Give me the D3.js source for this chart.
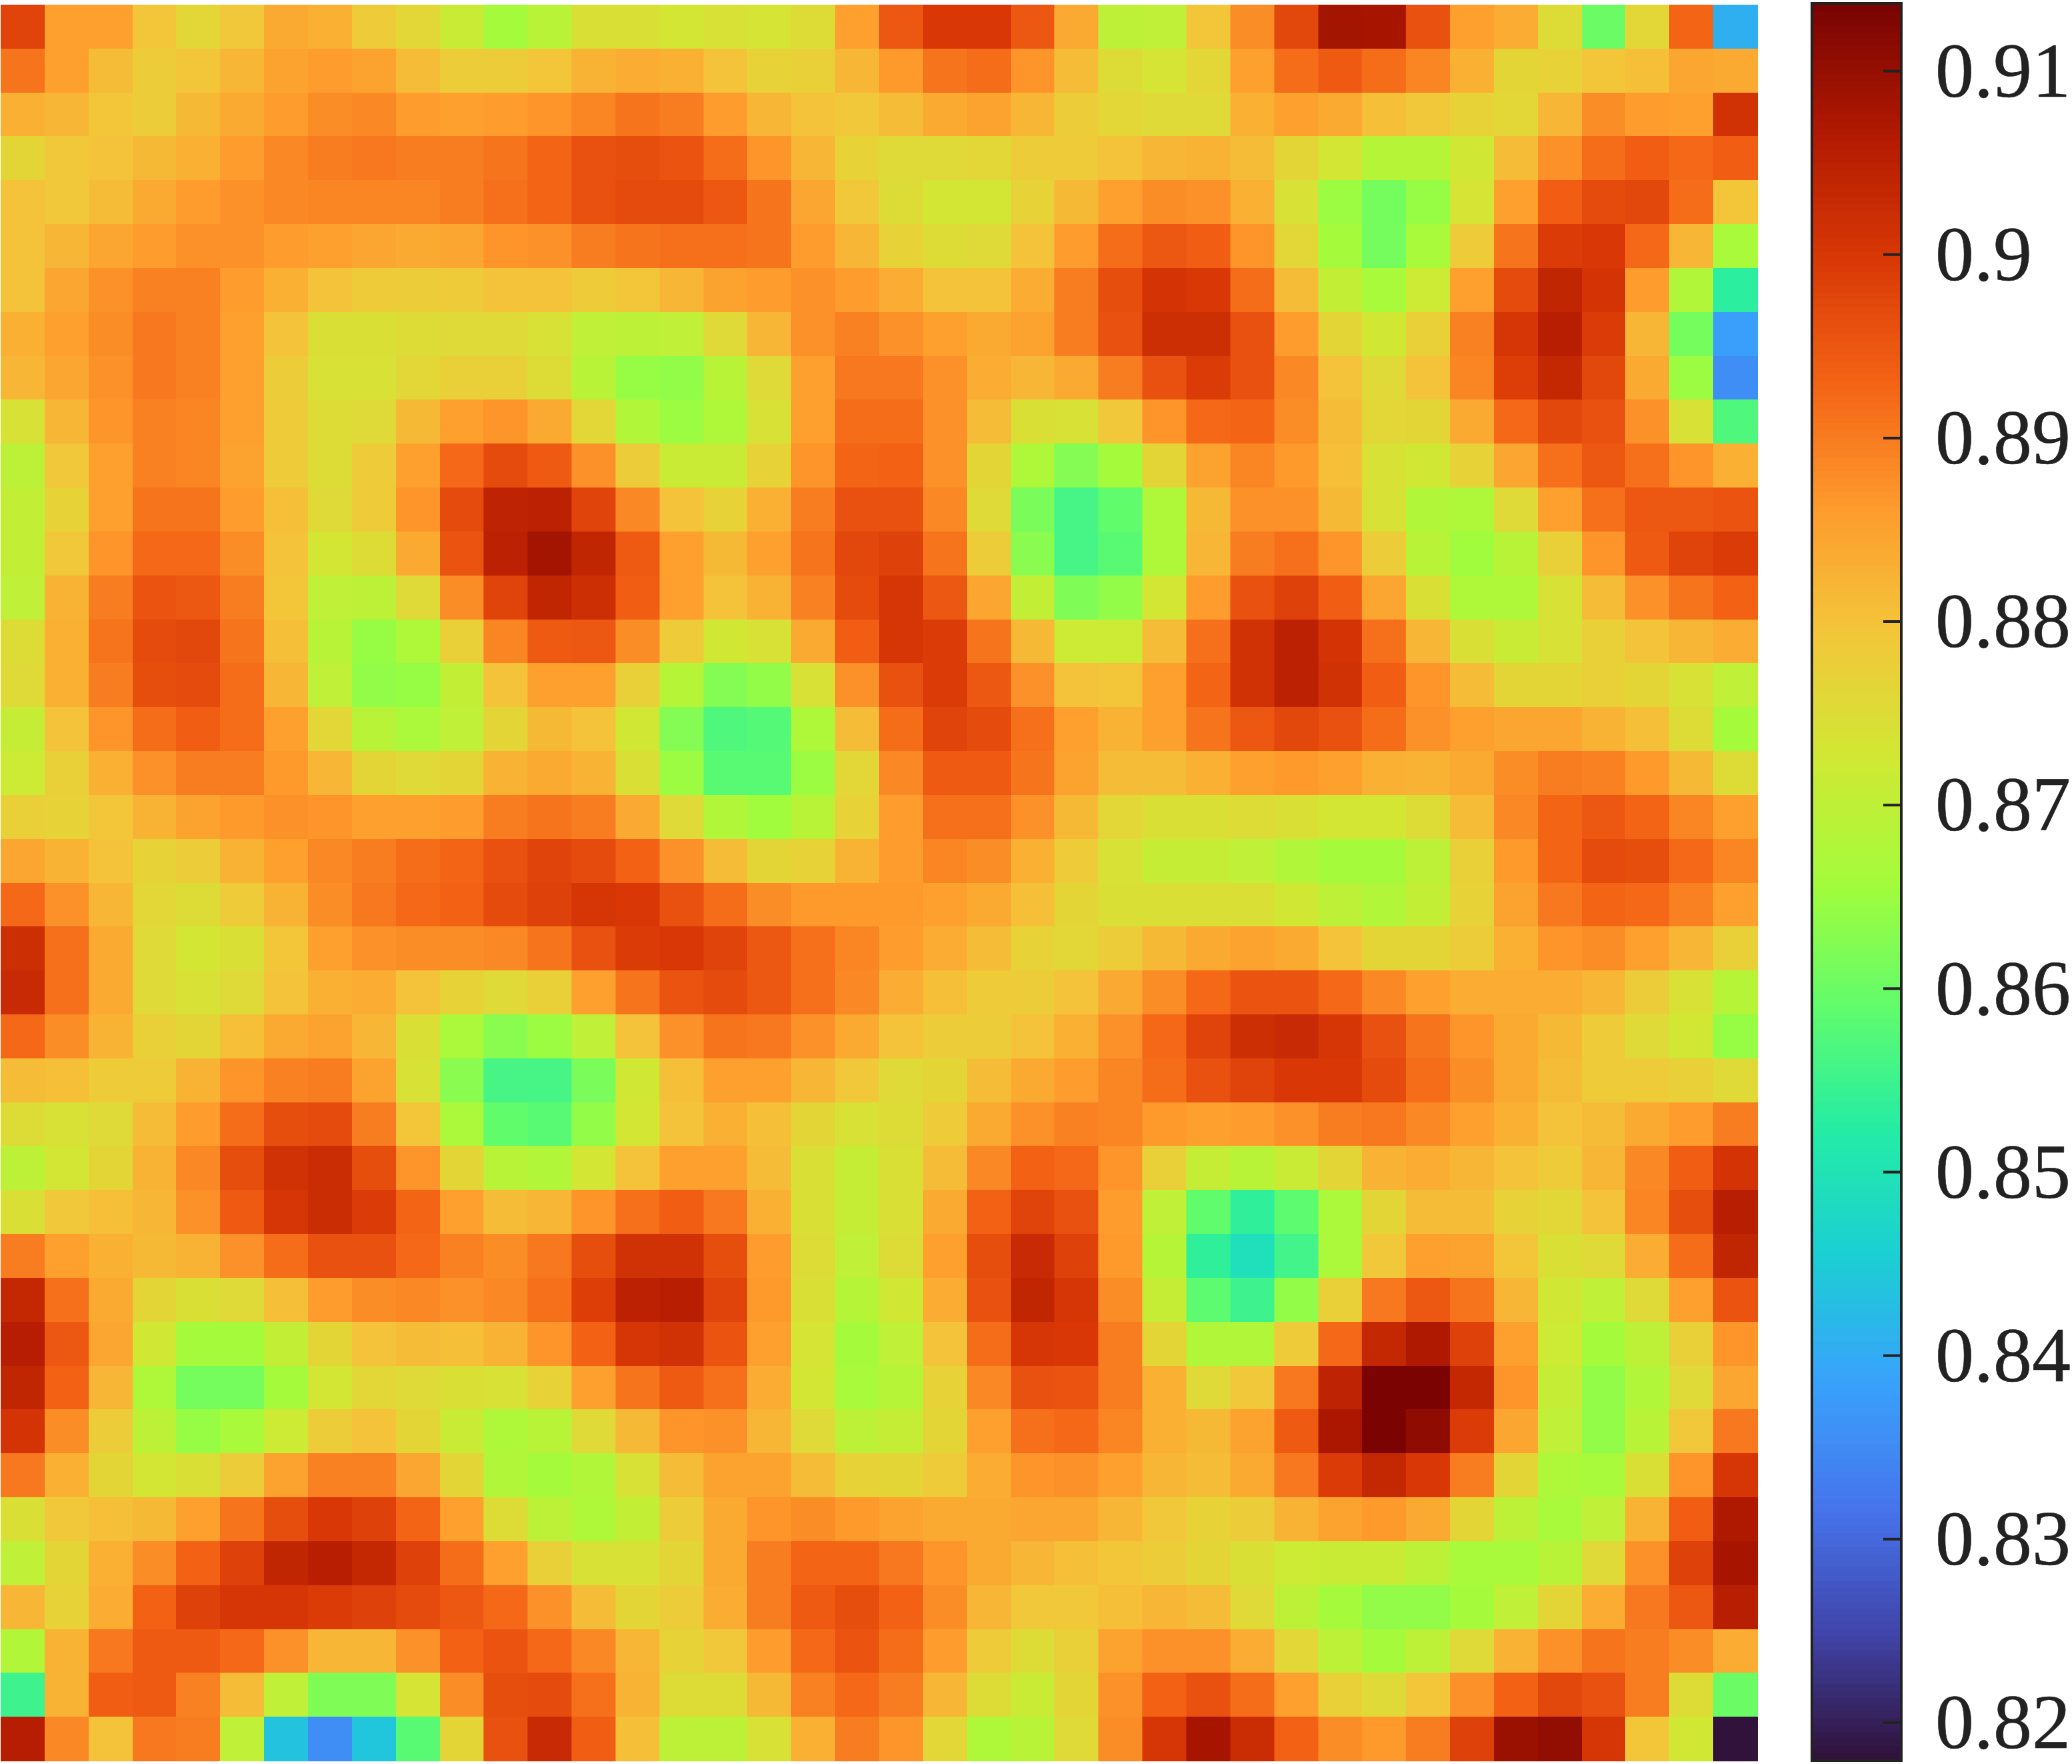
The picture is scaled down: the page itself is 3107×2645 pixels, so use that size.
<!DOCTYPE html>
<html><head><meta charset="utf-8">
<script src="https://cdnjs.cloudflare.com/ajax/libs/d3/7.8.5/d3.min.js"></script>
<style>html,body{margin:0;padding:0;background:#fff}svg{display:block}</style>
</head><body><div id="chart"></div>
<script>
// cell values, in thousandths
const row00=[898,885.5,885.5,879.5,876,879,884,883,878.5,876,871.5,866,869,874.5,874.5,873,874,873.5,875,885.5,895,900,900,895,884,869.5,870,879.5,888,897.5,908.5,908,896,885.5,883.5,875,860,876,893,840.5];
const row01=[891,885.5,881,878,879.5,882,885,886,885,881,878,878,879.5,882.5,883.5,883,880,877,877.5,882,886.5,891,892,887,881,875,873.5,876,885.5,892,894.5,892,889,883,876.5,877,879.5,880.5,884.5,884];
const row02=[883,882,879.5,878,881.5,884,886,888,888.5,886,885.5,886,887,889,891,890,886,882,880,879,881,884,885,882,878,876,875.5,875.5,883,885.5,884,880.5,879,877,876,882,888,886,885.5,901.5];
const row03=[876.5,879,880,881.5,883,886,888.5,890,890.5,890,890,891,893,896,896.5,895.5,892,887,882,877,875.5,875.5,876,878,878.5,880,882,882.5,881,876.5,873,868.5,868.5,872.5,881,887.5,892,894,892.5,894];
const row04=[880,879,881,884,886,887.5,888.5,889,889,889,890,891.5,893,896,897,897,895,891,884.5,879,875,873,873,877,881.5,885.5,888,887.5,883,874,865,861,864.5,873.5,885.5,894,897,897.5,892,879.5];
const row05=[880,882,884.5,886,887.5,887.5,886,885.5,884.5,884,884.5,887,887.5,890,891,891.5,891.5,891,886,882,877,875,875.5,880,886,892,895,894,887,876,866,861,866.5,878.5,891,899.5,900,892.5,882,866.5];
const row06=[880,884.5,887.5,889.5,889.5,886,883,880,878.5,878,878.5,880,880,878.5,879.5,882,885,886,887.5,886,883.5,880,880,883.5,890,896.5,901,900,892,881,870.5,866.5,872,885.5,897,904,901,886,868,853];
const row07=[883,885.5,888,890.5,889.5,885.5,880,874.5,874.5,875,875.5,875.5,874,870,869.5,870,875.5,882,887.5,889.5,887.5,885.5,884,885,890,896,902,902,896,886,876.5,872.5,877.5,889.5,900.5,905.5,899.5,882,861,838];
const row08=[882,884.5,887.5,890.5,889.5,885.5,878,874,874,876,877.5,877.5,875,869,864.5,864,869,875.5,885.5,890.5,890.5,887.5,883.5,882,884,890,896,899.5,896,888.5,880,875.5,880,889,899,903.5,897.5,884,865,835.5];
const row09=[874,882,887,889.5,889,885.5,878.5,875,875.5,881.5,885.5,887,884,876,868,865,867.5,874,885.5,892,892,887.5,881,874.5,874,879,887,892.5,893,888,881,876,876.5,884,892.5,897.5,896,887.5,874,857];
const row10=[869.5,879,885.5,889.5,889,885,878.5,875,878.5,885.5,892.5,897,894.5,887.5,878,871.5,871.5,877,887,893,893.5,887.5,876.5,867.5,862.5,866,876.5,885,889,886.5,880.5,874,872.5,877,884.5,891.5,895,891.5,887,883];
const row11=[870.5,877,885.5,891,891,886,880.5,875.5,878.5,887,897,904.5,905,898,888.5,880,877,883,890,896,896,888.5,875.5,861.5,856,859,867.5,881.5,887.5,887.5,881.5,874,868,867.5,875.5,885.5,891.5,895,895,895.5];
const row12=[870.5,879,887,892.5,892.5,888,880,873,875,884,895.5,905,908.5,904,894.5,885.5,881.5,885.5,891,897.5,898.5,891,878,863,856,858,867.5,882,890,891.5,887,878,869,865.5,869,877.5,887,894.5,898,899.5];
const row13=[870,882.5,890,895.5,895,890,879.5,870,869.5,875.5,888,898,904,902,894,885.5,880,882.5,889.5,897,900.5,895,884.5,870.5,862,864,873,886,896,898.5,894,884.5,874.5,867.5,867.5,874,881,887.5,891,893.5];
const row14=[875,883,891,897,897.5,891,880.5,869,864.5,867.5,877.5,889,894.5,895,888,878.5,872.5,874,884,894,900.5,899.5,891,881.5,872,872,881,891.5,901.5,905,901,891.5,882,874.5,871.5,874,877.5,880,882,883.5];
const row15=[875.5,883,890,896.5,897,892,882,870,864,864.5,870.5,880,885.5,885.5,877.5,868.5,862.5,864,874,887.5,896,899.5,895,887.5,880,879.5,885.5,893,901.5,905,901.5,894,887,881,876.5,876.5,877.5,876.5,874,870];
const row16=[871,880,887,892,894,892,885.5,876,869,867,870,876.5,881.5,880,872.5,862.5,857,857.5,867.5,881,892,898,897,891.5,885.5,882.5,885.5,891,895,897.5,896,892,887.5,885.5,884.5,884.5,882.5,880.5,875,866];
const row17=[872,877.5,883,887.5,890,890,886.5,882,876.5,875.5,876.5,882.5,884,882.5,874.5,865,858,858,865,876,888.5,894.5,894.5,891,885,881,881,883,885.5,886.5,885.5,883,882.5,884,888,890,889.5,886.5,881.5,875];
const row18=[877.5,877,879.5,882.5,885,886.5,887.5,887,885.5,885.5,886,890,891,890,884,875.5,868,865.5,869,877,886,891.5,891.5,887.5,881.5,876,874.5,874.5,875,874.5,873,873,875,881,888.5,893,895,893,889,885.5];
const row19=[884.5,882.5,880,877,878,882.5,885.5,888.5,890,892,893,896,898,897,893.5,887.5,881,876.5,877,882.5,886,889,888,883,878.5,874,871,871,870,868,866,866,869.5,877.5,886.5,893,897,896.5,892.5,889];
const row20=[892.5,887.5,882,876,875,878.5,882.5,888,890.5,892.5,893.5,897,898.5,900.5,900,896,892,888,886.5,886.5,886.5,885.5,884,880.5,876.5,874.5,874.5,874.5,874.5,872.5,869.5,868,870.5,877,885,890.5,893,892.5,889.5,885.5];
const row21=[902,891.5,884,875.5,873,874.5,879.5,885.5,887.5,888,888,888.5,891,896,899.5,900,898,895,891.5,889,886,883.5,881,877,876,878,881.5,884,885,884,880,876.5,876.5,878,883,887,888,885.5,882,877.5];
const row22=[903,891.5,884,875.5,874,875.5,880,883,883.5,880,877,875.5,877.5,885.5,891,895.5,897,895,891.5,888.5,883.5,880.5,878.5,878,880,884,888,892.5,895.5,895.5,892.5,888.5,885.5,883.5,883.5,883.5,882,878,874,868.5];
const row23=[892.5,888,882.5,877.5,876.5,880.5,884,885,882,874.5,867,863,865,870,880,887.5,891,890.5,887.5,884,880,878,878,880,883,887.5,892.5,898,902,903,900.5,896,891,887,884,881.5,878.5,875.5,872.5,864.5];
const row24=[881,880.5,878.5,878.5,882.5,887,889.5,890,885,874,863,856,856,861.5,872.5,880.5,885.5,885.5,882,879,875.5,876.5,881,884,886,889,892,896,898,900,900,897,892,888,884,881,878.5,878.5,877.5,875.5];
const row25=[875,874,875.5,881,886,892,896.5,897,890,879.5,867,859,858,864,873,880,883,880.5,876.5,874,875,878.5,884,887.5,889.5,889,886.5,885.5,886,887.5,890,890.5,888.5,885.5,883,880,881,884,886,890];
const row26=[869.5,873,876.5,882.5,888.5,896.5,901.5,902.5,896.5,887,876.5,869,868,873,880,885.5,885.5,881,874.5,871,874.5,881,888.5,893.5,892.5,887,877.5,871,869,871.5,876.5,882.5,883.5,882,880,878.5,882,888.5,894,901];
const row27=[874.5,879,880.5,882,887.5,894.5,900.5,902.5,899.5,893,885.5,881,882,887,891.5,894,890.5,883,874.5,871,874.5,884,893.5,898,896,886,870,859,853.5,858.5,867,876.5,881,881,877,876,880,889,896.5,905.5];
const row28=[890,885.5,883,881.5,882.5,887.5,892,896,896,892.5,889.5,888,890.5,896.5,901.5,901.5,896.5,886,875,870,875,885.5,896.5,903,898.5,886.5,868.5,853.5,849,855.5,867,879,885.5,885,879.5,874.5,875.5,883.5,892,904];
const row29=[903.5,891.5,884,876.5,874.5,875.5,880.5,886,888,888.5,887.5,888.5,891.5,899,905,905.5,898,886.5,874.5,868.5,872.5,883.5,896,904,900.5,888,871,858.5,855,864,877.5,890.5,895,891,882,872.5,870,875.5,885.5,895.5];
const row30=[906,895,884.5,872.5,866,866,870.5,876.5,880,881,880.5,882.5,887,893.5,900.5,901.5,895.5,885.5,873.5,866,870,880,892,900.5,900,890,876.5,868,868,878.5,892.5,903.5,907,898.5,885.5,872,866,869.5,877.5,887];
const row31=[904,893.5,882,867.5,861,861,866,873,876,875.5,874.5,874,877,885.5,891,894.5,891.5,883.5,873,866.5,868.5,877,888.5,896,895.5,890,883,875.5,879,890.5,904.5,913.5,913.5,903.5,887,871,864,868,875.5,884.5];
const row32=[901,888,878,869.5,864.5,866.5,872,878,880,876.5,871.5,867.5,869,875.5,881.5,887,887.5,882,875.5,869.5,871,876.5,885.5,891.5,892.5,889,883,881.5,885,894.5,907.5,913.5,911,899.5,884.5,870,864,869,879,890.5];
const row33=[890.5,883,876.5,873,874.5,878,885,889.5,889.5,884.5,876.5,868,866,868,874,881,885,885,881,877,876.5,878.5,883.5,887,887.5,885.5,882,881,884,890.5,899.5,903.5,900,890,876.5,867.5,866.5,874.5,887,900.5];
const row34=[874.5,879,880.5,881.5,885.5,891,896.5,900,898.5,893,885.5,875,869.5,867.5,870.5,878,884,887,888,886.5,885,884,884,884.5,884.5,882,879,877,878,882.5,885,886.5,884,876.5,869.5,866.5,870,882.5,894,907];
const row35=[870,876.5,883,888,893.5,898.5,904,905.5,903.5,898.5,892,885.5,877.5,874,874,876.5,884,890,893,893,890.5,887,884,882,880.5,879.5,878,876.5,874.5,872,871.5,871.5,869.5,866.5,866.5,869,875.5,887.5,898.5,908];
const row36=[882,877,883.5,893.5,898.5,900.5,900.5,899.5,898.5,897,895,892.5,887.5,881,876.5,878,883.5,890,894.5,896.5,893.5,888,882,879,879,880.5,882,881,875.5,869.5,866,864,864,866,870,876.5,883.5,890.5,895,905.5];
const row37=[868,882.5,890.5,894.5,894.5,892.5,887.5,882,882,887.5,893.5,895.5,892.5,888.5,882,877,879,886,892.5,895.5,892,886,878.5,875,877.5,885,887.5,887.5,883.5,876,869.5,866,869.5,875.5,882.5,887.5,891,890,888,883.5];
const row38=[855,882.5,894,894.5,889.5,881,870,862,862,873.5,888,896.5,897,891.5,882.5,875,875,881.5,889.5,892.5,890,882,875,871.5,876.5,887.5,893.5,896,892,885.5,877.5,875.5,879.5,887.5,893.5,897.5,896,890,875,860];
const row39=[906,888.5,880,890.5,890,870,843.5,835.5,844,858,876.5,896,903,894,880.5,869.5,869.5,874,883,890,887,876,867.5,869,875.5,888,900.5,908,902.5,893.5,888,886.5,890,898.5,909.5,910.5,900.5,879.5,872.5,818];
const rows=[row00,row01,row02,row03,row04,row05,row06,row07,row08,row09,row10,row11,row12,row13,row14,row15,row16,row17,row18,row19,row20,row21,row22,row23,row24,row25,row26,row27,row28,row29,row30,row31,row32,row33,row34,row35,row36,row37,row38,row39];
const tickValues=[0.82,0.83,0.84,0.85,0.86,0.87,0.88,0.89,0.9,0.91];
const colorRange=[0.818,0.9136];
const turboStops=["#30123b","#4145ab","#4675ed","#39a2fc","#1bcfd4","#24eca6","#61fc6c","#a4fc3b","#d1e834","#f3c63a","#fe9b2d","#f36315","#d93806","#b11901","#7a0402"];

const W=3107,H=2645;
const svg=d3.select("#chart").append("svg").attr("width",W).attr("height",H).attr("viewBox",[0,0,W,H]);
const interp=d3.piecewise(d3.interpolateRgb,turboStops);
const color=d3.scaleSequential(interp).domain(colorRange).clamp(true);
const idx=d3.range(40);
const x=d3.scaleBand().domain(idx).range([1,2635]);
const y=d3.scaleBand().domain(idx).range([7,2640]);
const cells=rows.flatMap((r,i)=>r.map((v,j)=>({i,j,v:v/1000})));
svg.append("g").attr("shape-rendering","crispEdges").selectAll("rect").data(cells).join("rect")
  .attr("x",d=>x(d.j)).attr("y",d=>y(d.i)).attr("width",x.bandwidth()+0.5).attr("height",y.bandwidth()+0.5)
  .attr("fill",d=>color(d.v));

// colour bar
const cy=d3.scaleLinear().domain(colorRange).range([2637.5,7]);
const levels=d3.range(256);
const cb=d3.scaleBand().domain(levels).range([2637.5,7]);
const bx0=2717,bx1=2851;
svg.append("g").attr("shape-rendering","crispEdges").selectAll("rect").data(levels).join("rect")
  .attr("x",bx0).attr("y",d=>cb(d)).attr("width",bx1-bx0).attr("height",cb.bandwidth()+0.6)
  .attr("fill",d=>color(colorRange[0]+(colorRange[1]-colorRange[0])*d/255));
svg.append("rect").attr("x",bx0).attr("y",5).attr("width",bx1-bx0).attr("height",2635)
  .attr("fill","none").attr("stroke","#222").attr("stroke-width",4);
const axis=d3.axisRight(cy).tickValues(tickValues).tickSize(-27).tickPadding(51).tickFormat(d=>String(+d.toFixed(2)));
const ag=svg.append("g").attr("transform",`translate(${bx1},0)`).call(axis);
ag.select(".domain").remove();
ag.selectAll(".tick line").attr("stroke","#222").attr("stroke-width",4);
ag.selectAll(".tick text").attr("fill","#222").attr("dy","0.33em").style("font-family","'Liberation Serif','Times New Roman',serif").style("font-size","116px").style("stroke","#222").style("stroke-width","0.6px");
</script></body></html>
